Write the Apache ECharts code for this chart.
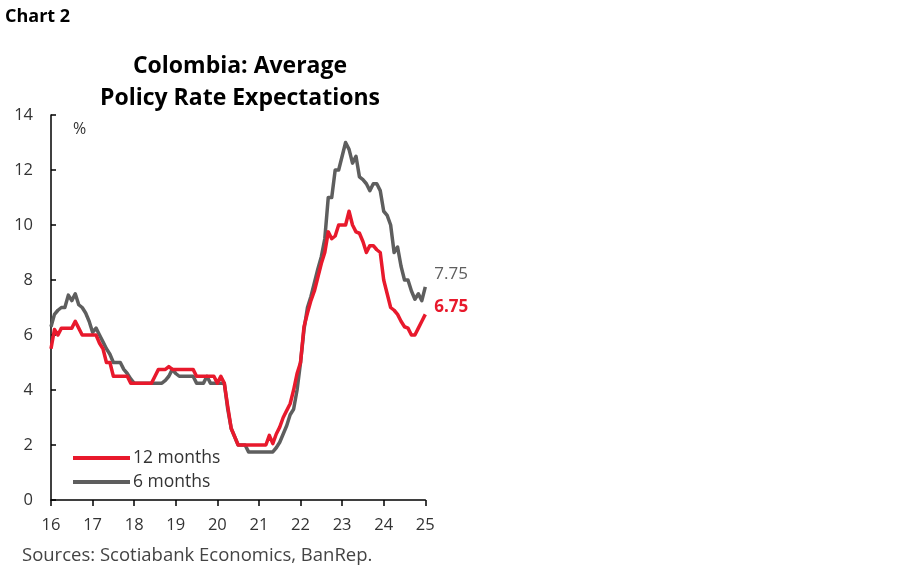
<!DOCTYPE html>
<html>
<head>
<meta charset="utf-8">
<script src="https://cdn.jsdelivr.net/npm/echarts@6/dist/echarts.min.js"></script>
<style>
html,body{margin:0;padding:0;background:#fff;}
#c{width:900px;height:579px;}
</style>
</head>
<body>
<div id="c"></div>
<script>
// Monthly observations, Jan 2016 .. Jan 2025 (index 0..108)
const xTickLabels = ['16','17','18','19','20','21','22','23','24','25'];
const yTickLabels = ['0','2','4','6','8','10','12','14'];
const seriesNames = ['12 months','6 months'];

const twelveMonths = [
 5.5,6.2,6.0,6.25,6.25,6.25,6.25,6.5,6.25,6.0,6.0,6.0,
 6.0,6.0,5.7,5.5,5.0,5.0,4.5,4.5,4.5,4.5,4.5,4.25,
 4.25,4.25,4.25,4.25,4.25,4.25,4.5,4.75,4.75,4.75,4.85,4.75,
 4.75,4.75,4.75,4.75,4.75,4.75,4.5,4.5,4.5,4.5,4.5,4.5,
 4.25,4.5,4.25,3.4,2.6,2.3,2.0,2.0,2.0,2.0,2.0,2.0,
 2.0,2.0,2.0,2.35,2.05,2.4,2.65,3.0,3.25,3.5,4.0,4.6,
 5.0,6.3,6.8,7.25,7.6,8.1,8.6,9.0,9.75,9.5,9.6,10.0,
 10.0,10.0,10.5,10.0,9.75,9.7,9.4,9.0,9.25,9.25,9.1,9.0,
 8.0,7.5,7.0,6.9,6.75,6.5,6.3,6.25,6.0,6.0,6.25,6.5,
 6.75
];

const sixMonths = [
 6.3,6.75,6.9,7.0,7.0,7.45,7.25,7.5,7.1,7.0,6.8,6.5,
 6.1,6.25,6.0,5.75,5.5,5.3,5.0,5.0,5.0,4.75,4.6,4.4,
 4.25,4.25,4.25,4.25,4.25,4.25,4.25,4.25,4.25,4.35,4.5,4.75,
 4.6,4.5,4.5,4.5,4.5,4.5,4.25,4.25,4.25,4.5,4.25,4.25,
 4.25,4.25,4.25,3.3,2.6,2.3,2.0,2.0,2.0,1.75,1.75,1.75,
 1.75,1.75,1.75,1.75,1.75,1.9,2.1,2.4,2.7,3.1,3.3,4.0,
 5.0,6.2,7.0,7.4,7.9,8.4,8.85,9.5,11.0,11.0,12.0,12.0,
 12.5,13.0,12.75,12.25,12.5,11.75,11.65,11.5,11.25,11.5,11.5,11.25,
 10.5,10.35,10.0,9.0,9.2,8.5,8.0,8.0,7.6,7.3,7.5,7.25,
 7.75
];

const RED = '#e8192c';
const GREY = '#5e5e5e';
const FONT = '"Open Sans", Lato, sans-serif';

const toXY = arr => arr.map((v, i) => [i, v]);

const chart = echarts.init(document.getElementById('c'), null, {renderer: 'canvas'});
chart.setOption({
  animation: false,
  backgroundColor: '#fff',
  textStyle: {fontFamily: FONT},
  graphic: [
    {type: 'text', left: 5, top: 8, style: {text: 'Chart 2', font: 'bold 18px ' + FONT, fill: '#000'}},
    {type: 'text', x: 240, y: 50, style: {text: 'Colombia: Average\nPolicy Rate Expectations', font: 'bold 23px ' + FONT, fill: '#000', align: 'center', lineHeight: 32}},
    {type: 'text', x: 73, y: 121, style: {text: '%', font: '16px ' + FONT, fill: '#333'}},
    {type: 'text', x: 22, y: 546, style: {text: 'Sources: Scotiabank Economics, BanRep.', font: '18.5px ' + FONT, fill: '#444'}}
  ],
  legend: {
    data: seriesNames,
    orient: 'vertical',
    left: 68,
    top: 444,
    itemWidth: 57,
    itemHeight: 4,
    itemGap: 6,
    icon: 'rect',
    textStyle: {fontSize: 17.5, color: '#333', fontFamily: FONT, padding: [0,0,0,-2]}
  },
  grid: {left: 51, right: 474.7, top: 115, bottom: 79, containLabel: false},
  xAxis: {
    type: 'value',
    min: 0, max: 108, interval: 12,
    axisLine: {show: true, lineStyle: {color: '#000', width: 1.5}},
    axisTick: {show: true, inside: false, length: 6, lineStyle: {color: '#000', width: 1.5}},
    axisLabel: {formatter: v => xTickLabels[v / 12], fontSize: 16.5, color: '#333', margin: 17, fontFamily: FONT},
    splitLine: {show: false}
  },
  yAxis: {
    type: 'value',
    min: 0, max: 14, interval: 2,
    axisLine: {show: true, lineStyle: {color: '#000', width: 1.5}},
    axisTick: {show: true, inside: true, length: 5, lineStyle: {color: '#000', width: 1.5}},
    axisLabel: {formatter: v => yTickLabels[v / 2], fontSize: 16.5, color: '#333', margin: 18, fontFamily: FONT},
    splitLine: {show: false}
  },
  series: [
    {
      name: seriesNames[0], type: 'line', data: toXY(twelveMonths),
      showSymbol: false, symbol: 'none', z: 3,
      lineStyle: {color: RED, width: 3.5, join: 'round'}, itemStyle: {color: RED},
      endLabel: {show: true, formatter: p => p.value[1].toFixed(2), color: RED, fontSize: 17, fontWeight: 'bold', offset: [1, -7], fontFamily: FONT}
    },
    {
      name: seriesNames[1], type: 'line', data: toXY(sixMonths),
      showSymbol: false, symbol: 'none', z: 2,
      lineStyle: {color: GREY, width: 3.5, join: 'round'}, itemStyle: {color: GREY},
      endLabel: {show: true, formatter: p => p.value[1].toFixed(2), color: GREY, fontSize: 17, offset: [1, -13], fontFamily: FONT}
    }
  ]
});
</script>
</body>
</html>
